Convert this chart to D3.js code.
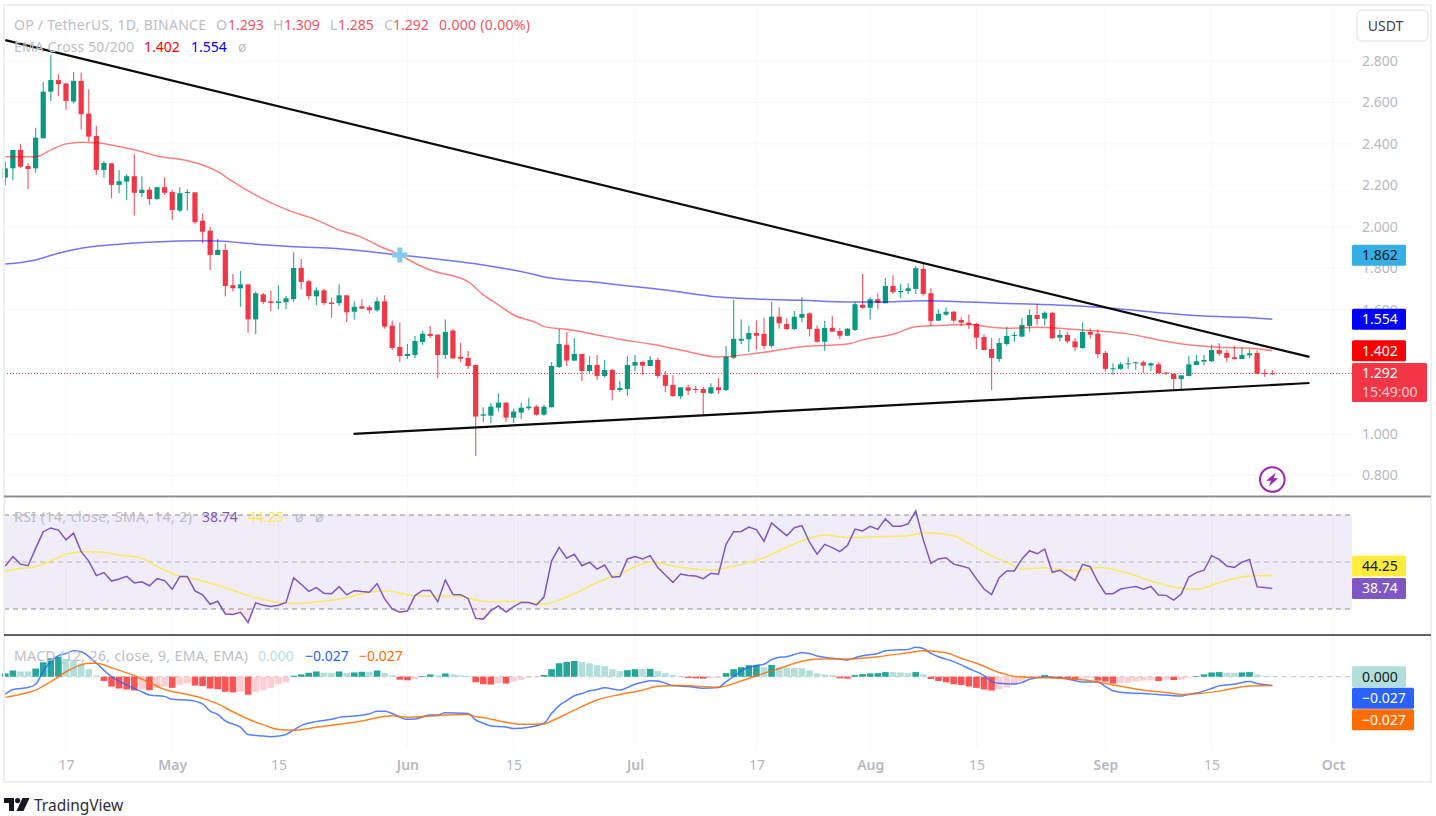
<!DOCTYPE html>
<html>
<head>
<meta charset="utf-8">
<style>
  html, body { margin: 0; padding: 0; background: #fff; }
  svg { display: block; }
  text { font-family: "Noto Sans", sans-serif; }
</style>
<script src="https://cdn.jsdelivr.net/npm/d3@7"></script>
</head>
<body>
<div class="container"></div>
<script>
// OP / USDT daily candles, one entry per day from firstDay
var firstDay = new Date(Date.UTC(2023, 3, 9))

var opens = [
  2.237, 2.282, 2.371, 2.293, 2.282, 2.427, 2.652, 2.708, 2.692, 2.604,
  2.704, 2.546, 2.438, 2.274, 2.306, 2.202, 2.218, 2.244, 2.163, 2.179,
  2.134, 2.191, 2.168, 2.078, 2.163, 2.166, 2.029, 1.981, 1.864, 1.888,
  1.718, 1.703, 1.722, 1.553, 1.674, 1.640, 1.632, 1.636, 1.651, 1.801,
  1.737, 1.664, 1.693, 1.634, 1.631, 1.669, 1.590, 1.616, 1.611, 1.597,
  1.640, 1.523, 1.420, 1.376, 1.381, 1.444, 1.483, 1.479, 1.381, 1.499,
  1.372, 1.367, 1.333, 1.088, 1.088, 1.127, 1.151, 1.079, 1.103, 1.124,
  1.132, 1.093, 1.129, 1.323, 1.430, 1.354, 1.386, 1.304, 1.333, 1.280,
  1.309, 1.212, 1.217, 1.330, 1.347, 1.328, 1.357, 1.285, 1.237, 1.182,
  1.225, 1.217, 1.217, 1.196, 1.225, 1.212, 1.368, 1.450, 1.457, 1.487,
  1.483, 1.425, 1.566, 1.531, 1.506, 1.561, 1.582, 1.507, 1.445, 1.512,
  1.497, 1.474, 1.502, 1.623, 1.609, 1.650, 1.631, 1.714, 1.684, 1.690,
  1.700, 1.796, 1.679, 1.547, 1.576, 1.590, 1.550, 1.537, 1.531, 1.468,
  1.410, 1.362, 1.434, 1.473, 1.470, 1.521, 1.574, 1.557, 1.585, 1.465,
  1.478, 1.447, 1.415, 1.492, 1.484, 1.391, 1.314, 1.314, 1.336, 1.341,
  1.346, 1.330, 1.336, 1.296, 1.291, 1.265, 1.280, 1.333, 1.349, 1.351,
  1.405, 1.391, 1.370, 1.362, 1.380, 1.391, 1.294, 1.293
]
var highs = [
  2.314, 2.371, 2.400, 2.306, 2.478, 2.697, 2.829, 2.737, 2.692, 2.747,
  2.744, 2.664, 2.488, 2.317, 2.306, 2.274, 2.255, 2.351, 2.244, 2.193,
  2.193, 2.239, 2.178, 2.191, 2.181, 2.166, 2.065, 2.000, 1.941, 1.917,
  1.772, 1.787, 1.722, 1.687, 1.680, 1.690, 1.718, 1.666, 1.877, 1.844,
  1.743, 1.708, 1.701, 1.658, 1.722, 1.669, 1.640, 1.650, 1.621, 1.660,
  1.669, 1.547, 1.537, 1.434, 1.473, 1.497, 1.521, 1.483, 1.553, 1.508,
  1.439, 1.400, 1.333, 1.129, 1.148, 1.196, 1.154, 1.122, 1.151, 1.175,
  1.141, 1.141, 1.347, 1.507, 1.492, 1.463, 1.386, 1.376, 1.381, 1.357,
  1.314, 1.256, 1.376, 1.381, 1.352, 1.376, 1.367, 1.304, 1.285, 1.225,
  1.237, 1.232, 1.227, 1.245, 1.270, 1.425, 1.647, 1.553, 1.521, 1.547,
  1.561, 1.637, 1.611, 1.558, 1.594, 1.660, 1.587, 1.523, 1.545, 1.571,
  1.510, 1.512, 1.637, 1.772, 1.660, 1.679, 1.753, 1.767, 1.724, 1.727,
  1.811, 1.829, 1.703, 1.602, 1.611, 1.595, 1.566, 1.576, 1.537, 1.483,
  1.463, 1.463, 1.518, 1.492, 1.558, 1.602, 1.626, 1.592, 1.590, 1.502,
  1.494, 1.462, 1.539, 1.510, 1.505, 1.400, 1.341, 1.346, 1.372, 1.349,
  1.354, 1.346, 1.346, 1.299, 1.291, 1.283, 1.376, 1.381, 1.381, 1.430,
  1.438, 1.405, 1.425, 1.418, 1.409, 1.404, 1.314, 1.309
]
var lows = [
  2.202, 2.226, 2.282, 2.182, 2.261, 2.427, 2.607, 2.631, 2.564, 2.596,
  2.470, 2.411, 2.250, 2.237, 2.137, 2.162, 2.129, 2.053, 2.142, 2.105,
  2.129, 2.153, 2.033, 2.073, 2.078, 2.012, 1.920, 1.791, 1.864, 1.663,
  1.687, 1.614, 1.489, 1.483, 1.627, 1.594, 1.602, 1.602, 1.637, 1.698,
  1.650, 1.621, 1.621, 1.561, 1.616, 1.539, 1.552, 1.602, 1.582, 1.590,
  1.508, 1.405, 1.347, 1.362, 1.367, 1.430, 1.463, 1.270, 1.362, 1.362,
  1.347, 1.314, 0.894, 1.058, 1.053, 1.108, 1.058, 1.053, 1.074, 1.114,
  1.088, 1.088, 1.127, 1.318, 1.328, 1.354, 1.256, 1.294, 1.261, 1.274,
  1.161, 1.203, 1.183, 1.304, 1.285, 1.328, 1.270, 1.203, 1.180, 1.169,
  1.188, 1.198, 1.096, 1.193, 1.193, 1.207, 1.362, 1.434, 1.396, 1.405,
  1.410, 1.416, 1.508, 1.502, 1.502, 1.539, 1.470, 1.442, 1.402, 1.491,
  1.458, 1.473, 1.497, 1.605, 1.552, 1.602, 1.631, 1.676, 1.655, 1.676,
  1.676, 1.667, 1.521, 1.545, 1.571, 1.537, 1.521, 1.507, 1.410, 1.405,
  1.212, 1.347, 1.426, 1.445, 1.467, 1.494, 1.525, 1.523, 1.458, 1.447,
  1.438, 1.400, 1.410, 1.460, 1.367, 1.301, 1.285, 1.309, 1.315, 1.309,
  1.293, 1.304, 1.291, 1.285, 1.207, 1.216, 1.277, 1.330, 1.330, 1.347,
  1.378, 1.349, 1.358, 1.362, 1.365, 1.290, 1.275, 1.285
]
var closes = [
  2.282, 2.371, 2.290, 2.279, 2.430, 2.652, 2.708, 2.689, 2.607, 2.704,
  2.543, 2.435, 2.274, 2.308, 2.202, 2.220, 2.244, 2.164, 2.179, 2.134,
  2.191, 2.164, 2.081, 2.162, 2.168, 2.022, 1.976, 1.864, 1.888, 1.714,
  1.703, 1.722, 1.553, 1.679, 1.637, 1.632, 1.640, 1.655, 1.801, 1.734,
  1.666, 1.693, 1.632, 1.627, 1.669, 1.587, 1.614, 1.605, 1.597, 1.640,
  1.518, 1.415, 1.376, 1.386, 1.449, 1.484, 1.473, 1.381, 1.492, 1.365,
  1.363, 1.328, 1.084, 1.095, 1.132, 1.151, 1.079, 1.108, 1.127, 1.132,
  1.093, 1.132, 1.328, 1.434, 1.354, 1.386, 1.304, 1.333, 1.280, 1.309,
  1.212, 1.222, 1.333, 1.347, 1.330, 1.357, 1.280, 1.232, 1.183, 1.225,
  1.209, 1.212, 1.198, 1.225, 1.212, 1.373, 1.459, 1.459, 1.487, 1.474,
  1.425, 1.566, 1.534, 1.506, 1.566, 1.579, 1.506, 1.445, 1.512, 1.494,
  1.474, 1.508, 1.626, 1.609, 1.650, 1.632, 1.714, 1.685, 1.690, 1.703,
  1.800, 1.676, 1.545, 1.580, 1.590, 1.547, 1.537, 1.527, 1.465, 1.405,
  1.367, 1.439, 1.473, 1.478, 1.526, 1.574, 1.555, 1.585, 1.462, 1.478,
  1.447, 1.418, 1.492, 1.479, 1.386, 1.314, 1.317, 1.336, 1.341, 1.346,
  1.330, 1.341, 1.294, 1.291, 1.265, 1.283, 1.336, 1.351, 1.357, 1.405,
  1.387, 1.367, 1.362, 1.381, 1.389, 1.290, 1.290, 1.292
]

// EMA lines at these day numbers
var ema50Days = [0, 4, 6, 8, 10, 12, 15, 18, 20, 24, 26, 28, 30, 33, 37, 41, 44, 47, 49, 52, 54, 56, 61, 63, 65, 67, 70, 71, 74, 78, 81, 85, 89, 94, 99, 105, 111, 113, 117, 120, 124, 127, 130, 132, 136, 140, 144, 148, 152, 156, 160, 164, 167]
var ema50 = [2.338, 2.338, 2.371, 2.400, 2.408, 2.406, 2.387, 2.362, 2.342, 2.319, 2.298, 2.266, 2.218, 2.153, 2.084, 2.033, 1.984, 1.949, 1.912, 1.864, 1.824, 1.791, 1.735, 1.671, 1.623, 1.574, 1.537, 1.518, 1.505, 1.478, 1.457, 1.434, 1.405, 1.372, 1.389, 1.421, 1.434, 1.454, 1.481, 1.518, 1.525, 1.528, 1.515, 1.510, 1.515, 1.507, 1.497, 1.483, 1.454, 1.430, 1.418, 1.414, 1.402]
var ema200Days = [0, 4, 7, 10, 15, 19, 25, 28, 33, 37, 43, 52, 56, 63, 70, 71, 78, 81, 87, 94, 100, 105, 111, 116, 121, 127, 131, 136, 141, 146, 152, 158, 163, 167]
var ema200 = [1.820, 1.840, 1.872, 1.896, 1.916, 1.925, 1.933, 1.931, 1.916, 1.906, 1.896, 1.864, 1.848, 1.816, 1.767, 1.758, 1.732, 1.719, 1.695, 1.661, 1.650, 1.645, 1.637, 1.637, 1.643, 1.637, 1.631, 1.626, 1.619, 1.607, 1.585, 1.569, 1.563, 1.554]
var crossDay = 52
var crossPrice = 1.864

// hand drawn trend lines: [day, price] ends
var upperTrend = [[0, 2.901], [171.9, 1.372]]
var lowerTrend = [[45.9, 1.000], [171.9, 1.246]]

var rsi = [
  48.3, 52.3, 49.1, 48.4, 55.8, 62.9, 64.5, 63.6, 59.4, 62.3,
  54.4, 50.4, 44.2, 45.5, 41.9, 42.8, 43.9, 41.1, 41.6, 39.9,
  42.9, 42.1, 38.4, 43.8, 43.8, 37.7, 36.0, 32.0, 33.3, 27.9,
  27.7, 28.6, 24.3, 32.6, 31.6, 31.1, 31.6, 32.8, 43.3, 40.5,
  37.5, 39.1, 36.7, 36.5, 39.5, 36.0, 37.8, 37.4, 37.1, 40.8,
  34.3, 30.0, 28.6, 29.1, 35.7, 37.9, 37.9, 33.1, 42.3, 36.2,
  36.1, 34.5, 26.0, 25.7, 29.3, 31.3, 28.7, 31.0, 32.8, 32.8,
  31.7, 35.1, 50.4, 56.2, 51.6, 53.3, 48.4, 49.9, 47.0, 48.7,
  43.5, 43.8, 51.3, 52.3, 51.3, 52.7, 47.6, 44.5, 41.3, 44.9,
  44.3, 44.0, 42.9, 45.2, 44.8, 57.5, 62.9, 63.0, 64.9, 63.8,
  58.8, 66.6, 63.9, 61.2, 64.6, 65.5, 58.4, 53.3, 57.5, 56.1,
  54.4, 57.0, 64.0, 63.2, 65.2, 63.9, 68.3, 65.2, 65.2, 66.2,
  71.7, 59.4, 49.4, 51.3, 51.8, 49.1, 48.3, 47.4, 42.8, 38.5,
  36.1, 43.3, 46.2, 46.2, 51.3, 54.8, 53.5, 55.5, 45.6, 46.5,
  44.3, 42.2, 49.0, 48.0, 41.6, 36.5, 36.5, 38.5, 39.1, 39.6,
  38.4, 39.6, 36.0, 35.8, 33.8, 36.4, 43.6, 45.5, 46.5, 52.7,
  51.1, 48.3, 47.7, 49.9, 51.1, 39.4, 39.1, 38.74
]
var rsiMaDays = [0, 2, 4, 6, 8, 10, 12, 15, 18, 20, 23, 26, 29, 32, 36, 38, 41, 45, 47, 50, 54, 57, 60, 62, 64, 67, 69, 71, 73, 75, 78, 80, 82, 85, 89, 93, 96, 100, 102, 106, 108, 111, 115, 119, 121, 125, 127, 130, 132, 134, 137, 141, 144, 148, 151, 155, 157, 160, 164, 167]
var rsiMa = [46.2, 47.2, 48.0, 50.4, 53.3, 54.4, 54.4, 53.0, 51.6, 48.0, 44.0, 41.9, 39.1, 35.7, 32.8, 32.3, 33.0, 34.8, 36.5, 37.8, 35.7, 35.5, 35.4, 33.8, 33.1, 33.3, 32.8, 32.1, 33.8, 36.5, 41.3, 43.8, 46.5, 49.9, 47.7, 46.5, 48.3, 51.8, 54.8, 60.1, 61.5, 60.4, 60.8, 61.2, 62.5, 61.2, 57.9, 52.6, 49.9, 47.0, 47.6, 46.2, 47.7, 45.2, 41.9, 38.8, 38.4, 41.2, 44.0, 44.25]
var rsiLevels = [70, 50, 30]

var macdHist = [
  0.010, 0.019, 0.016, 0.016, 0.025, 0.044, 0.056, 0.061, 0.054, 0.051,
  0.040, 0.023, 0.003, -0.013, -0.030, -0.036, -0.039, -0.042, -0.038, -0.041,
  -0.034, -0.030, -0.034, -0.025, -0.020, -0.027, -0.029, -0.036, -0.038, -0.046,
  -0.048, -0.046, -0.055, -0.046, -0.041, -0.034, -0.023, -0.017, 0.003, 0.007,
  0.012, 0.016, 0.012, 0.011, 0.016, 0.011, 0.013, 0.015, 0.015, 0.019,
  0.011, 0.004, -0.009, -0.011, -0.008, 0.002, 0.007, 0.004, 0.010, 0.007,
  0.004, 0.003, -0.017, -0.023, -0.024, -0.020, -0.021, -0.015, -0.010, -0.003,
  -0.002, 0.005, 0.023, 0.041, 0.045, 0.048, 0.045, 0.041, 0.035, 0.032,
  0.023, 0.017, 0.020, 0.023, 0.023, 0.024, 0.017, 0.011, 0.005, 0.002,
  -0.004, -0.005, -0.006, -0.004, -0.003, 0.011, 0.023, 0.029, 0.035, 0.036,
  0.029, 0.036, 0.028, 0.028, 0.027, 0.026, 0.019, 0.010, 0.007, 0.005,
  -0.005, -0.006, 0.005, 0.008, 0.010, 0.011, 0.014, 0.014, 0.013, 0.011,
  0.014, 0.007, -0.007, -0.013, -0.017, -0.023, -0.025, -0.030, -0.034, -0.039,
  -0.042, -0.038, -0.033, -0.025, -0.015, -0.005, -0.002, 0.005, -0.004, -0.005,
  -0.006, -0.009, -0.005, -0.003, -0.012, -0.015, -0.021, -0.020, -0.018, -0.015,
  -0.012, -0.011, -0.013, -0.009, -0.010, -0.009, -0.003, 0.002, 0.007, 0.013,
  0.014, 0.012, 0.012, 0.013, 0.014, 0.007, 0.003, 0.001
]
var macdDays = [0, 1, 3, 4, 5, 6, 7, 8, 9, 10, 12, 14, 16, 18, 19, 21, 22, 24, 26, 27, 28, 29, 31, 32, 34, 35, 36, 37, 38, 39, 41, 43, 44, 46, 48, 49, 50, 51, 53, 54, 56, 57, 58, 61, 62, 63, 64, 66, 67, 69, 71, 72, 73, 74, 75, 76, 77, 78, 79, 81, 82, 83, 84, 85, 86, 87, 88, 90, 92, 94, 95, 96, 97, 99, 100, 101, 102, 103, 105, 106, 107, 109, 110, 111, 112, 113, 115, 116, 117, 119, 120, 121, 122, 123, 125, 126, 127, 129, 130, 131, 133, 134, 135, 137, 140, 142, 144, 145, 146, 148, 150, 153, 155, 156, 157, 159, 160, 162, 164, 165, 167]
var macdLine = [-0.053, -0.039, -0.033, -0.023, 0.017, 0.046, 0.064, 0.071, 0.079, 0.076, 0.041, 0, -0.025, -0.046, -0.056, -0.060, -0.069, -0.071, -0.083, -0.105, -0.115, -0.135, -0.154, -0.176, -0.181, -0.183, -0.181, -0.176, -0.163, -0.149, -0.137, -0.130, -0.124, -0.120, -0.113, -0.105, -0.105, -0.112, -0.130, -0.129, -0.117, -0.117, -0.110, -0.112, -0.132, -0.142, -0.150, -0.153, -0.158, -0.154, -0.142, -0.112, -0.088, -0.073, -0.058, -0.051, -0.043, -0.039, -0.034, -0.041, -0.033, -0.023, -0.017, -0.012, -0.013, -0.020, -0.027, -0.030, -0.035, -0.033, -0.015, 0, 0.018, 0.034, 0.038, 0.052, 0.059, 0.061, 0.073, 0.071, 0.063, 0.056, 0.054, 0.051, 0.058, 0.064, 0.071, 0.079, 0.081, 0.083, 0.090, 0.086, 0.071, 0.061, 0.046, 0.036, 0.025, 0.003, -0.015, -0.020, -0.022, -0.018, -0.008, -0.001, -0.007, -0.016, -0.016, -0.030, -0.043, -0.050, -0.051, -0.056, -0.059, -0.054, -0.050, -0.036, -0.028, -0.023, -0.015, -0.021, -0.027]
var signalDays = [0, 3, 4, 6, 8, 10, 11, 12, 14, 17, 19, 21, 24, 26, 28, 30, 32, 34, 36, 38, 41, 44, 47, 49, 51, 53, 56, 58, 61, 62, 63, 66, 68, 71, 72, 75, 78, 81, 84, 86, 89, 94, 97, 99, 102, 105, 107, 111, 115, 119, 121, 124, 126, 128, 131, 133, 135, 139, 143, 146, 150, 153, 155, 157, 160, 164, 167]
var signalLine = [-0.063, -0.048, -0.041, -0.015, 0.015, 0.036, 0.041, 0.041, 0.027, 0.003, -0.018, -0.039, -0.054, -0.066, -0.083, -0.107, -0.129, -0.147, -0.161, -0.163, -0.154, -0.145, -0.135, -0.125, -0.119, -0.124, -0.120, -0.117, -0.115, -0.122, -0.125, -0.139, -0.145, -0.144, -0.135, -0.102, -0.071, -0.054, -0.041, -0.029, -0.027, -0.032, -0.013, 0.003, 0.025, 0.047, 0.054, 0.054, 0.061, 0.073, 0.079, 0.073, 0.056, 0.041, 0.013, 0.001, -0.002, -0.005, -0.012, -0.025, -0.041, -0.048, -0.054, -0.052, -0.044, -0.028, -0.027]

// 1.400 and 1.200 sit behind the value tags, so they are left out
var priceTicks = [2.8, 2.6, 2.4, 2.2, 2.0, 1.8, 1.6, 1.0, 0.8]
var rsiTicks = [60, 20]
var macdTicks = [-0.2]
var timeTicks = [
  new Date(Date.UTC(2023, 3, 17)), new Date(Date.UTC(2023, 4, 1)), new Date(Date.UTC(2023, 4, 15)),
  new Date(Date.UTC(2023, 5, 1)), new Date(Date.UTC(2023, 5, 15)), new Date(Date.UTC(2023, 6, 1)),
  new Date(Date.UTC(2023, 6, 17)), new Date(Date.UTC(2023, 7, 1)), new Date(Date.UTC(2023, 7, 15)),
  new Date(Date.UTC(2023, 8, 1)), new Date(Date.UTC(2023, 8, 15)), new Date(Date.UTC(2023, 9, 1))
]

var green = '#089981'
var red = '#f23645'
var axisGrey = '#b6b8c1'
var legendGrey = '#bcbec6'
var axisX = 1352

var x = d3.scaleUtc()
  .domain([firstDay, new Date(Date.UTC(2023, 9, 1))])
  .range([5.3, 1333])
var y = d3.scaleLinear().domain([0.8, 2.8]).range([475.4, 61])
var yRsi = d3.scaleLinear().domain([30, 70]).range([609, 515])
var yMacd = d3.scaleLinear().domain([-0.2, 0]).range([742.3, 676.7])

function dayX(d) { return x(firstDay) + d * (x(d3.utcDay.offset(firstDay, 1)) - x(firstDay)) }

var svg = d3.select('.container').append('svg')
  .attr('width', 1436)
  .attr('height', 816)

var defs = svg.append('defs')
function addClip(id, cx, cy, w, h) {
  defs.append('clipPath').attr('id', id).append('rect')
    .attr('x', cx).attr('y', cy).attr('width', w).attr('height', h)
}
addClip('rsiAxisClip', axisX, 498, 80, 136)
addClip('macdAxisClip', axisX, 637, 80, 110)
addClip('rsiBelow', 4, yRsi(30), axisX - 4, 26)
addClip('rsiAbove', 4, 497, axisX - 4, yRsi(70) - 497)

// faint grid
svg.append('g').selectAll('line').data(timeTicks).enter().append('line')
  .attr('x1', function(d) { return x(d) })
  .attr('x2', function(d) { return x(d) })
  .attr('y1', 6).attr('y2', 748)
  .attr('stroke', '#f7f8fa')
svg.append('g').selectAll('line').data(priceTicks).enter().append('line')
  .attr('x1', 4).attr('x2', axisX)
  .attr('y1', function(d) { return y(d) })
  .attr('y2', function(d) { return y(d) })
  .attr('stroke', '#f7f8fa')

// candles
var candles = svg.append('g').selectAll('g')
  .data(closes.map(function(c, i) {
    return { day: i, open: opens[i], high: highs[i], low: lows[i], close: c }
  }))
  .enter().append('g')
  .attr('fill', function(d) { return d.close >= d.open ? green : red })
  .attr('stroke', function(d) { return d.close >= d.open ? green : red })

candles.append('line')
  .attr('x1', function(d) { return dayX(d.day) })
  .attr('x2', function(d) { return dayX(d.day) })
  .attr('y1', function(d) { return y(d.high) })
  .attr('y2', function(d) { return y(d.low) })
  .attr('stroke-width', 1.2)
  .attr('stroke-opacity', 0.8)

candles.append('rect')
  .attr('x', function(d) { return dayX(d.day) - 2.6 })
  .attr('width', 5.2)
  .attr('y', function(d) { return y(Math.max(d.open, d.close)) })
  .attr('height', function(d) { return Math.max(1, Math.abs(y(d.open) - y(d.close))) })
  .attr('stroke', 'none')

function drawLine(days, values, scale, color, width, opacity, curve) {
  var line = d3.line()
    .x(function(d, i) { return dayX(days[i]) })
    .y(function(d) { return scale(d) })
    .curve(curve || d3.curveMonotoneX)
  svg.append('path')
    .attr('d', line(values))
    .attr('fill', 'none')
    .attr('stroke', color)
    .attr('stroke-width', width)
    .attr('stroke-opacity', opacity)
}

drawLine(ema50Days, ema50, y, '#ff0000', 1.5, 0.5)
drawLine(ema200Days, ema200, y, '#0000ff', 1.5, 0.55)

svg.append('path')
  .attr('d', d3.symbol().type(d3.symbolCross).size(125)())
  .attr('transform', 'translate(' + dayX(crossDay) + ',' + y(crossPrice) + ')')
  .attr('fill', '#7fcdee')

// last price line
svg.append('line')
  .attr('x1', 4).attr('x2', axisX)
  .attr('y1', y(closes[closes.length - 1])).attr('y2', y(closes[closes.length - 1]))
  .attr('stroke', red)
  .attr('stroke-dasharray', '1,2')

// trend lines
;[upperTrend, lowerTrend].forEach(function(t) {
  svg.append('line')
    .attr('x1', dayX(t[0][0])).attr('y1', y(t[0][1]))
    .attr('x2', dayX(t[1][0])).attr('y2', y(t[1][1]))
    .attr('stroke', '#0b0b0b')
    .attr('stroke-width', 2.2)
})

// lightning badge
var badge = svg.append('g').attr('transform', 'translate(' + dayX(167) + ',479.5)')
badge.append('circle').attr('r', 12.3).attr('fill', '#fff').attr('stroke', '#9c27b0').attr('stroke-width', 2)
badge.append('path').attr('d', 'M3.5,-7L-6,1.2L-1.3,1.2L-3.5,7L6,-1.2L1.3,-1.2Z').attr('fill', '#9c27b0')

// RSI pane
svg.append('rect')
  .attr('x', 4).attr('width', axisX - 4)
  .attr('y', yRsi(70)).attr('height', yRsi(30) - yRsi(70))
  .attr('fill', '#7e57c2').attr('fill-opacity', 0.115)

svg.append('g').selectAll('line').data(rsiLevels).enter().append('line')
  .attr('x1', 4).attr('x2', axisX)
  .attr('y1', function(d) { return yRsi(d) })
  .attr('y2', function(d) { return yRsi(d) })
  .attr('stroke', '#787b86')
  .attr('stroke-opacity', function(d) { return d === 50 ? 0.5 : 0.85 })
  .attr('stroke-dasharray', '5,4')

var rsiDays = rsi.map(function(d, i) { return i })
var overArea = d3.area()
  .x(function(d, i) { return dayX(i) })
  .y1(function(d) { return yRsi(d) })
svg.append('path')
  .attr('d', overArea.y0(yRsi(30))(rsi))
  .attr('clip-path', 'url(#rsiBelow)')
  .attr('fill', '#f23645').attr('fill-opacity', 0.12)
svg.append('path')
  .attr('d', overArea.y0(yRsi(70))(rsi))
  .attr('clip-path', 'url(#rsiAbove)')
  .attr('fill', '#089981').attr('fill-opacity', 0.12)

drawLine(rsiMaDays, rsiMa, yRsi, '#fce94f', 1.5, 0.9)
drawLine(rsiDays, rsi, yRsi, '#7e57c2', 1.5, 1, d3.curveLinear)

// MACD pane
svg.append('line')
  .attr('x1', 4).attr('x2', axisX)
  .attr('y1', yMacd(0)).attr('y2', yMacd(0))
  .attr('stroke', '#787b86').attr('stroke-opacity', 0.45)
  .attr('stroke-dasharray', '5,4')

function histColor(d, i) {
  var prev = i > 0 ? macdHist[i - 1] : -1
  if (d >= 0) return d > prev ? '#26a69a' : '#b2dfdb'
  return d < prev ? '#ff5252' : '#ffcdd2'
}

svg.append('g').selectAll('rect').data(macdHist).enter().append('rect')
  .attr('x', function(d, i) { return dayX(i) - 3.3 })
  .attr('width', 6.6)
  .attr('y', function(d) { return d >= 0 ? yMacd(d) : yMacd(0) })
  .attr('height', function(d) { return Math.abs(yMacd(d) - yMacd(0)) })
  .attr('fill', histColor)

drawLine(macdDays, macdLine, yMacd, '#2962ff', 1.5, 0.8)
drawLine(signalDays, signalLine, yMacd, '#ff6d00', 1.5, 0.85)

// pane separators and frame
svg.append('rect')
  .attr('x', 4).attr('y', 5).attr('width', 1427).attr('height', 777)
  .attr('fill', 'none').attr('stroke', '#eeeff3').attr('stroke-width', 2)
svg.append('line')
  .attr('x1', 4).attr('x2', 1431).attr('y1', 496.5).attr('y2', 496.5)
  .attr('stroke', '#8e8f96').attr('stroke-width', 2)
svg.append('line')
  .attr('x1', 4).attr('x2', 1431).attr('y1', 635).attr('y2', 635)
  .attr('stroke', '#2a2e39').attr('stroke-width', 1.4)

// axes
function styleAxis(g) {
  g.select('.domain').remove()
  g.selectAll('.tick line').remove()
  g.selectAll('text')
    .attr('fill', axisGrey)
    .style('font-family', '"Noto Sans", sans-serif')
    .style('font-size', '14px')
}

svg.append('g')
  .attr('transform', 'translate(' + axisX + ',0)')
  .call(d3.axisRight(y).tickValues(priceTicks).tickFormat(d3.format('.3f')).tickPadding(10).tickSize(0))
  .call(styleAxis)
svg.append('g')
  .attr('transform', 'translate(' + axisX + ',0)')
  .attr('clip-path', 'url(#rsiAxisClip)')
  .call(d3.axisRight(yRsi).tickValues(rsiTicks).tickFormat(d3.format('.2f')).tickPadding(10).tickSize(0))
  .call(styleAxis)
svg.append('g')
  .attr('transform', 'translate(' + axisX + ',0)')
  .attr('clip-path', 'url(#macdAxisClip)')
  .call(d3.axisRight(yMacd).tickValues(macdTicks).tickFormat(d3.format('.3f')).tickPadding(10).tickSize(0))
  .call(styleAxis)

var timeAxis = svg.append('g')
  .attr('transform', 'translate(0,754)')
  .call(d3.axisBottom(x).tickValues(timeTicks).tickSize(0).tickPadding(6)
    .tickFormat(function(d) {
      return d.getUTCDate() === 1 ? d3.utcFormat('%b')(d) : d3.utcFormat('%-d')(d)
    }))
  .call(styleAxis)
timeAxis.selectAll('text')
  .style('font-weight', function(d) { return d.getUTCDate() === 1 ? 600 : 400 })

// value tags on the price axis
function tag(cy, w, fill, color, label) {
  svg.append('rect')
    .attr('x', axisX).attr('y', cy - 10.5).attr('width', w).attr('height', 21)
    .attr('rx', 1.5)
    .attr('fill', fill)
  svg.append('text')
    .attr('x', 1362).attr('y', cy + 5)
    .attr('fill', color)
    .style('font-size', '14px')
    .text(label)
}

tag(y(1.862), 54, '#36aee6', '#131722', '1.862')
tag(y(ema200[ema200.length - 1]), 54, '#0000ff', '#fff', '1.554')
tag(y(ema50[ema50.length - 1]), 54, '#ff0000', '#fff', '1.402')

svg.append('rect')
  .attr('x', axisX).attr('y', y(1.292) - 10.5).attr('width', 75).attr('height', 39)
  .attr('rx', 1.5)
  .attr('fill', '#f23645')
svg.append('text').attr('x', 1362).attr('y', y(1.292) + 5)
  .attr('fill', '#fff').style('font-size', '14px').text('1.292')
svg.append('text').attr('x', 1362).attr('y', y(1.292) + 24)
  .attr('fill', '#fff').attr('fill-opacity', 0.75).style('font-size', '14px').text('15:49:00')

tag(yRsi(38.74), 54, '#7e57c2', '#fff', '38.74')
tag(yRsi(38.74) - 22.5, 54, '#ffeb3b', '#131722', '44.25')
tag(yMacd(0), 54, '#b2dfdb', '#131722', '0.000')
tag(yMacd(0) + 21.5, 62, '#2962ff', '#fff', '\u22120.027')
tag(yMacd(0) + 43, 62, '#ff6d00', '#fff', '\u22120.027')

// currency button
svg.append('rect')
  .attr('x', 1357).attr('y', 10).attr('width', 71).attr('height', 31)
  .attr('rx', 5)
  .attr('fill', '#fff').attr('stroke', '#e8e9ee').attr('stroke-width', 1.5)
svg.append('text')
  .attr('x', 1385.5).attr('y', 31)
  .attr('text-anchor', 'middle')
  .attr('fill', '#3b3f4a')
  .style('font-size', '14px')
  .text('USDT')

// legends, the fourth item stretches a text to the width it has in the picture
function legend(baseline, parts) {
  svg.append('g').selectAll('text').data(parts).enter().append('text')
    .attr('x', function(d) { return d[0] })
    .attr('y', baseline)
    .attr('fill', function(d) { return d[1] })
    .attr('textLength', function(d) { return d[3] || null })
    .style('font-size', '14px')
    .text(function(d) { return d[2] })
}

var priceRed = '#f7525f'
legend(30, [
  [14, legendGrey, 'OP / TetherUS, 1D, BINANCE', 192],
  [216, legendGrey, 'O'], [228, priceRed, '1.293'],
  [273, legendGrey, 'H'], [284, priceRed, '1.309'],
  [330, legendGrey, 'L'], [338, priceRed, '1.285'],
  [384, legendGrey, 'C'], [393, priceRed, '1.292'],
  [439, priceRed, '0.000 (0.00%)', 91]
])
legend(52, [
  [14, legendGrey, 'EMA Cross 50/200', 120],
  [144, '#ff0000', '1.402'],
  [191, '#0000ff', '1.554'],
  [238, legendGrey, '\u00f8']
])
legend(522, [
  [14, legendGrey, 'RSI (14, close, SMA, 14, 2)', 178],
  [202, '#7e57c2', '38.74'],
  [248, '#ffeb3b', '44.25'],
  [295, legendGrey, '\u00f8'],
  [315, legendGrey, '\u00f8']
])
legend(661, [
  [14, legendGrey, 'MACD (12, 26, close, 9, EMA, EMA)', 234],
  [258, '#b2dfdb', '0.000'],
  [305, '#2962ff', '\u22120.027'],
  [359, '#ff6d00', '\u22120.027']
])

// TradingView mark
var logo = svg.append('g').attr('fill', '#131722')
logo.append('path').attr('d', 'M4,798H14V811H9V803H4Z')
logo.append('circle').attr('cx', 17.6).attr('cy', 800.6).attr('r', 2.6)
logo.append('path').attr('d', 'M22.5,798H29.5L23.5,811H16.5Z')
svg.append('text')
  .attr('x', 34).attr('y', 811)
  .attr('fill', '#2a2e39')
  .style('font-size', '15.5px')
  .text('TradingView')
</script>
</body>
</html>
